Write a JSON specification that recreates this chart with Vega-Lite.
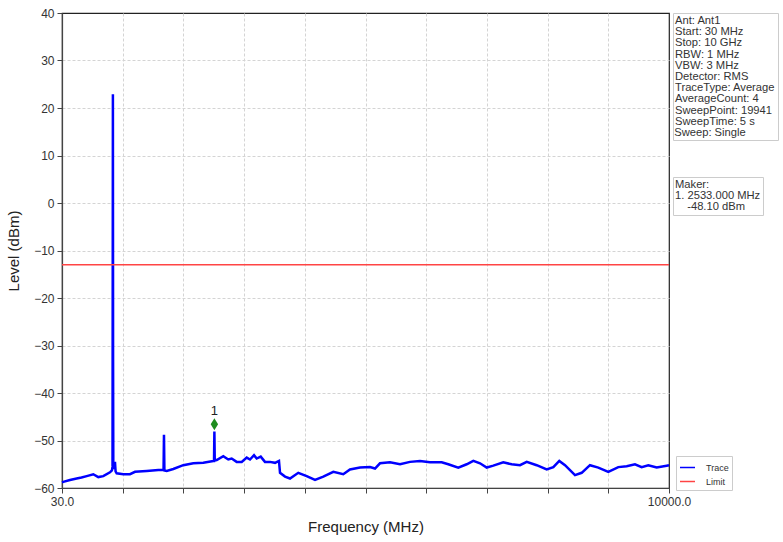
{
  "$schema": "https://vega.github.io/schema/vega-lite/v6.json",
  "width": 607,
  "height": 475,
  "autosize": {"type": "none"},
  "padding": {"left": 62, "top": 13, "right": 114, "bottom": 54},
  "background": "white",
  "config": {
    "font": "Liberation Sans",
    "view": {"stroke": "#222222", "strokeWidth": 1.2},
    "axis": {
      "grid": true,
      "gridDash": [3, 2],
      "gridColor": "#d4d4d4",
      "gridWidth": 1,
      "domainColor": "#444444",
      "domainWidth": 1.2,
      "tickColor": "#444444",
      "tickSize": 5,
      "labelFontSize": 12,
      "labelColor": "#333333",
      "titleFontSize": 15,
      "titleFontWeight": "normal",
      "titleColor": "#222222",
      "labelOverlap": false,
      "labelFlush": false
    }
  },
  "datasets": {
    "trace": [
      {"freq": 30, "level": -58.8}, {"freq": 51, "level": -58.7}, {"freq": 161, "level": -58.3},
      {"freq": 271, "level": -58.0}, {"freq": 350, "level": -57.8}, {"freq": 436, "level": -57.5},
      {"freq": 544, "level": -57.1}, {"freq": 626, "level": -57.7}, {"freq": 708, "level": -57.5},
      {"freq": 818, "level": -56.7}, {"freq": 850, "level": -56.3}, {"freq": 860, "level": -55.5},
      {"freq": 866, "level": 22.9}, {"freq": 869, "level": -33.0}, {"freq": 873, "level": -56.0},
      {"freq": 900, "level": -54.5}, {"freq": 910, "level": -56.5}, {"freq": 928, "level": -56.9},
      {"freq": 1037, "level": -57.1}, {"freq": 1147, "level": -57.1}, {"freq": 1229, "level": -56.6},
      {"freq": 1421, "level": -56.4}, {"freq": 1612, "level": -56.2}, {"freq": 1698, "level": -56.2},
      {"freq": 1705, "level": -48.8}, {"freq": 1712, "level": -56.3}, {"freq": 1750, "level": -56.4},
      {"freq": 1858, "level": -56.0}, {"freq": 2022, "level": -55.2}, {"freq": 2187, "level": -54.8},
      {"freq": 2351, "level": -54.7}, {"freq": 2515, "level": -54.3}, {"freq": 2527, "level": -54.3},
      {"freq": 2533, "level": -48.1}, {"freq": 2539, "level": -54.2}, {"freq": 2571, "level": -54.1},
      {"freq": 2679, "level": -53.3}, {"freq": 2761, "level": -54.0}, {"freq": 2817, "level": -53.8},
      {"freq": 2899, "level": -54.5}, {"freq": 2982, "level": -54.5}, {"freq": 3064, "level": -53.6},
      {"freq": 3118, "level": -54.0}, {"freq": 3184, "level": -53.1}, {"freq": 3228, "level": -53.8},
      {"freq": 3294, "level": -53.4}, {"freq": 3364, "level": -54.5}, {"freq": 3446, "level": -54.5},
      {"freq": 3529, "level": -54.7}, {"freq": 3594, "level": -54.3}, {"freq": 3611, "level": -56.8},
      {"freq": 3693, "level": -57.6}, {"freq": 3775, "level": -58.0}, {"freq": 3911, "level": -56.8},
      {"freq": 4049, "level": -57.5}, {"freq": 4186, "level": -58.3}, {"freq": 4322, "level": -57.6},
      {"freq": 4486, "level": -56.6}, {"freq": 4650, "level": -57.1}, {"freq": 4760, "level": -56.1},
      {"freq": 4925, "level": -55.7}, {"freq": 5089, "level": -55.6}, {"freq": 5171, "level": -55.9},
      {"freq": 5253, "level": -54.8}, {"freq": 5417, "level": -54.6}, {"freq": 5582, "level": -55.0},
      {"freq": 5746, "level": -54.5}, {"freq": 5910, "level": -54.3}, {"freq": 6074, "level": -54.6},
      {"freq": 6266, "level": -54.6}, {"freq": 6375, "level": -55.0}, {"freq": 6539, "level": -55.7},
      {"freq": 6677, "level": -55.0}, {"freq": 6786, "level": -54.3}, {"freq": 6896, "level": -54.8},
      {"freq": 7006, "level": -55.7}, {"freq": 7114, "level": -55.3}, {"freq": 7278, "level": -54.6},
      {"freq": 7416, "level": -55.0}, {"freq": 7553, "level": -55.2}, {"freq": 7663, "level": -54.5},
      {"freq": 7827, "level": -55.2}, {"freq": 7991, "level": -56.1}, {"freq": 8100, "level": -55.6},
      {"freq": 8198, "level": -54.3}, {"freq": 8292, "level": -55.2}, {"freq": 8456, "level": -57.3},
      {"freq": 8566, "level": -56.8}, {"freq": 8702, "level": -55.2}, {"freq": 8839, "level": -55.7},
      {"freq": 9003, "level": -56.6}, {"freq": 9167, "level": -55.6}, {"freq": 9305, "level": -55.4},
      {"freq": 9441, "level": -55.0}, {"freq": 9551, "level": -55.6}, {"freq": 9660, "level": -55.2},
      {"freq": 9798, "level": -55.7}, {"freq": 9962, "level": -55.3}, {"freq": 10000, "level": -55.2}
    ],
    "limit": [{"level": -13, "series": "Limit"}],
    "marker": [{"freq": 2533, "level": -46.6, "label": "1"}],
    "info": [{"line": "Sweep: Single"}],
    "makerInfo": [{"line": "-48.10 dBm"}]
  },
  "layer": [
    {
      "data": {"name": "trace"},
      "mark": {"type": "line", "strokeWidth": 2.5},
      "encoding": {
        "x": {
          "field": "freq", "type": "quantitative", "title": "Frequency (MHz)",
          "scale": {"domain": [30, 10000], "nice": false, "zero": false},
          "axis": {
            "values": [30, 1027, 2024, 3021, 4018, 5015, 6012, 7009, 8006, 9003, 10000],
            "labelExpr": "datum.value == 30 ? '30.0' : (datum.value == 10000 ? '10000.0' : '')",
            "gridOpacity": {"condition": {"test": "datum.value == 30 || datum.value == 10000", "value": 0}, "value": 1},
            "labelPadding": 3, "titlePadding": 12
          }
        },
        "y": {
          "field": "level", "type": "quantitative", "title": "Level (dBm)",
          "scale": {"domain": [-60, 40], "nice": false, "zero": false},
          "axis": {
            "values": [-60, -50, -40, -30, -20, -10, 0, 10, 20, 30, 40],
            "gridOpacity": {"condition": {"test": "datum.value == -60 || datum.value == 40", "value": 0}, "value": 1},
            "labelPadding": 3, "titlePadding": 12
          }
        },
        "stroke": {
          "datum": "Trace", "type": "nominal", "title": null,
          "scale": {"domain": ["Trace", "Limit"], "range": ["#0000ff", "#ff4444"]},
          "legend": {
            "orient": "none", "legendX": 614, "legendY": 443, "title": null,
            "symbolType": "stroke", "symbolSize": 225, "symbolStrokeWidth": 1.5,
            "labelFontSize": 9, "labelColor": "#333333", "labelOffset": 10,
            "strokeColor": "#cccccc", "fillColor": "white", "padding": 3, "rowPadding": 0
          }
        }
      }
    },
    {
      "data": {"name": "limit"},
      "mark": {"type": "rule", "strokeWidth": 1.5},
      "encoding": {
        "y": {"field": "level", "type": "quantitative"},
        "stroke": {"field": "series", "type": "nominal", "title": null}
      }
    },
    {
      "data": {"name": "marker"},
      "mark": {"type": "point", "filled": true, "shape": "M0,-1.3L0.8,0L0,1.3L-0.8,0Z", "size": 85, "color": "#1e8c1e", "opacity": 1},
      "encoding": {
        "x": {"field": "freq", "type": "quantitative"},
        "y": {"field": "level", "type": "quantitative"}
      }
    },
    {
      "data": {"name": "marker"},
      "mark": {"type": "text", "dy": -13, "fontSize": 13, "color": "#222222"},
      "encoding": {
        "x": {"field": "freq", "type": "quantitative"},
        "y": {"field": "level", "type": "quantitative"},
        "text": {"field": "label"}
      }
    },
    {
      "data": {"name": "info"},
      "mark": {"type": "point", "opacity": 0, "size": 1, "strokeWidth": 0},
      "encoding": {
        "shape": {
          "field": "line", "type": "nominal",
          "legend": {
            "orient": "none", "legendX": 611, "legendY": 0,
            "title": ["Ant: Ant1", "Start: 30 MHz", "Stop: 10 GHz", "RBW: 1 MHz", "VBW: 3 MHz", "Detector: RMS", "TraceType: Average", "AverageCount: 4", "SweepPoint: 19941", "SweepTime: 5 s"],
            "titleFontSize": 11.2, "titleFontWeight": "normal", "titleColor": "#333333",
            "titleLineHeight": 11.2, "titlePadding": 0, "titleLimit": 300,
            "symbolOpacity": 0, "symbolStrokeWidth": 0, "labelOffset": -12,
            "labelFontSize": 11.2, "labelColor": "#333333", "padding": 2,
            "strokeColor": "#cccccc", "fillColor": "white", "labelLimit": 300
          }
        }
      }
    },
    {
      "data": {"name": "makerInfo"},
      "mark": {"type": "point", "opacity": 0, "size": 1, "strokeWidth": 0},
      "encoding": {
        "fill": {
          "field": "line", "type": "nominal",
          "legend": {
            "orient": "none", "legendX": 611, "legendY": 164,
            "title": ["Maker:", "1. 2533.000 MHz"],
            "titleFontSize": 11.2, "titleFontWeight": "normal", "titleColor": "#333333",
            "titleLineHeight": 11.2, "titlePadding": 0, "titleLimit": 300,
            "symbolOpacity": 0, "symbolStrokeWidth": 0, "labelOffset": 1,
            "labelFontSize": 11.2, "labelColor": "#333333", "padding": 2,
            "strokeColor": "#cccccc", "fillColor": "white", "labelLimit": 300
          }
        }
      }
    }
  ]
}
